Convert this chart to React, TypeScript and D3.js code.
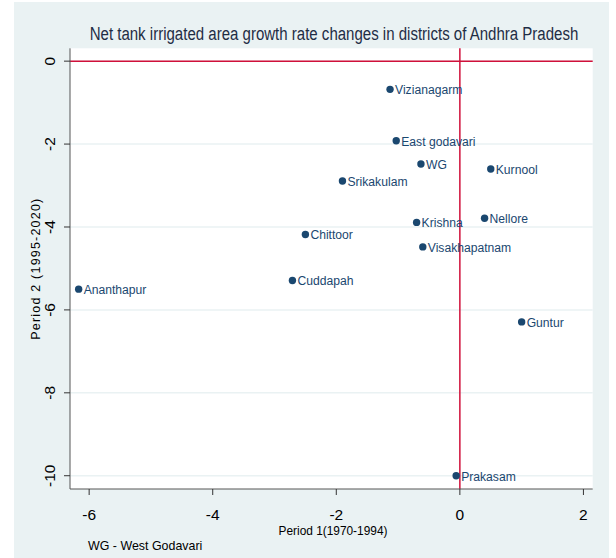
import React from "react";
import * as d3 from "d3";

const districts = ["Vizianagarm", "East godavari", "WG", "Kurnool", "Srikakulam", "Krishna", "Nellore", "Chittoor", "Visakhapatnam", "Cuddapah", "Ananthapur", "Guntur", "Prakasam"];
const period1 = [-1.13, -1.03, -0.63, 0.5, -1.9, -0.7, 0.4, -2.5, -0.6, -2.71, -6.17, 1.0, -0.06];
const period2 = [-0.68, -1.92, -2.48, -2.6, -2.89, -3.89, -3.79, -4.18, -4.48, -5.29, -5.5, -6.29, -10.0];
const xTicks = [-6, -4, -2, 0, 2];
const yTicks = [0, -2, -4, -6, -8, -10];

const W = 616;
const H = 558;
const plot = { left: 70, right: 592.7, top: 48.3, bottom: 489 };
const FONT = "'Liberation Sans', Arial, sans-serif";
const SX = 0.86;
const navy = "#1a476f";
const bg = "#eaf2f3";
const red = "#d0103a";

function CText(props: { x: number; y: number; size: number; anchor?: string; fill?: string; rotate?: number; children: React.ReactNode; sx?: number }) {
  const { x, y, size, anchor = "start", fill = "#000", rotate = 0, children, sx = SX } = props;
  return (
    <text
      transform={`translate(${x},${y}) rotate(${rotate}) scale(${sx},1)`}
      fontFamily={FONT}
      fontSize={size}
      textAnchor={anchor as any}
      fill={fill}
    >
      {children}
    </text>
  );
}

export default function App() {
  const x = d3.scaleLinear().domain([-6.31, 2.15]).range([plot.left, plot.right]);
  const y = d3.scaleLinear().domain([0.31, -10.32]).range([plot.top, plot.bottom]);
  const cy = (plot.top + plot.bottom) / 2;

  return (
    <svg width={W} height={H} style={{ position: "absolute", left: 0, top: 0 }}>
      <rect x={0} y={0} width={W} height={H} fill="#fff" />
      <rect x={14} y={2} width={595} height={H - 2} fill={bg} />
      <rect x={plot.left} y={plot.top} width={plot.right - plot.left} height={plot.bottom - plot.top} fill="#fff" />
      {yTicks.map((t) => (
        <line key={"g" + t} x1={plot.left} x2={plot.right} y1={y(t)} y2={y(t)} stroke={bg} strokeWidth={1.5} />
      ))}
      <line x1={plot.left} x2={plot.right} y1={y(0)} y2={y(0)} stroke={red} strokeWidth={1.5} />
      <line x1={x(0)} x2={x(0)} y1={plot.top} y2={plot.bottom} stroke={red} strokeWidth={1.5} />
      <line x1={plot.left} x2={plot.left} y1={plot.top} y2={plot.bottom} stroke="#555" strokeWidth={1} />
      <line x1={plot.left} x2={plot.right} y1={plot.bottom} y2={plot.bottom} stroke="#555" strokeWidth={1} />
      {yTicks.map((t) => (
        <g key={"y" + t}>
          <line x1={plot.left - 6} x2={plot.left} y1={y(t)} y2={y(t)} stroke="#333" />
          <CText x={55} y={y(t)} size={15.5} anchor="middle" rotate={-90} sx={1}>
            {t}
          </CText>
        </g>
      ))}
      {xTicks.map((t) => (
        <g key={"x" + t}>
          <line x1={x(t)} x2={x(t)} y1={plot.bottom} y2={plot.bottom + 6} stroke="#333" />
          <CText x={x(t)} y={520} size={15.5} anchor="middle" sx={1}>
            {t}
          </CText>
        </g>
      ))}
      {districts.map((d, i) => (
        <g key={d}>
          <circle cx={x(period1[i])} cy={y(period2[i])} r={3.7} fill={navy} />
          <CText x={x(period1[i]) + 5} y={y(period2[i]) + 4.8} size={13.5} sx={0.9} fill={navy}>
            {d}
          </CText>
        </g>
      ))}
      <CText x={334} y={40} size={18} sx={0.835} anchor="middle" fill="#1f2d45">
        Net tank irrigated area growth rate changes in districts of Andhra Pradesh
      </CText>
      <CText x={333} y={535} size={13.5} sx={0.88} anchor="middle">
        Period 1(1970-1994)
      </CText>
      <text
        transform={`translate(40,${cy}) rotate(-90)`}
        fontFamily={FONT}
        fontSize={12.5}
        letterSpacing={1.2}
        textAnchor="middle"
        fill="#000"
      >
        Period 2 (1995-2020)
      </text>
      <CText x={88} y={550} size={13.5} sx={0.92}>
        WG - West Godavari
      </CText>
    </svg>
  );
}
